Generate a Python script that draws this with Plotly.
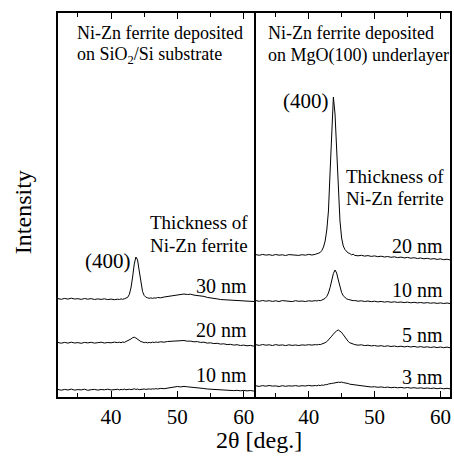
import plotly.graph_objects as go

# 2-theta sampling (deg.), finer around the ferrite (400) reflection
two_theta = [
    32.0, 32.5, 33.0, 33.5, 34.0, 34.5, 35.0, 35.5, 36.0, 36.5,
    37.0, 37.5, 38.0, 38.5, 39.0, 39.5, 40.0, 40.5, 41.0,
    41.25, 41.5, 41.75, 42.0, 42.25, 42.5, 42.75, 43.0, 43.25, 43.5,
    43.75, 44.0, 44.25, 44.5, 44.75, 45.0, 45.25, 45.5, 45.75, 46.0,
    46.25, 46.5, 46.75, 47.0,
    47.5, 48.0, 48.5, 49.0, 49.5, 50.0, 50.5, 51.0, 51.5, 52.0,
    52.5, 53.0, 53.5, 54.0, 54.5, 55.0, 55.5, 56.0, 56.5, 57.0,
    57.5, 58.0, 58.5, 59.0, 59.5, 60.0, 60.5, 61.0, 61.5, 62.0,
]

# Ni-Zn ferrite on SiO2/Si substrate (stacked intensity, a.u.)
sio2_10nm = [
    7.5, 6.8, 7.6, 7.0, 7.9, 6.9, 7.4, 7.1, 7.8, 6.7,
    7.3, 7.6, 6.9, 7.5, 7.2, 7.8, 7.0, 7.4, 7.7,
    7.1, 7.6, 7.3, 7.9, 7.2, 7.5, 7.8, 7.3, 7.9, 8.2,
    7.6, 7.9, 7.4, 7.8, 7.5, 8.0, 7.6, 7.9, 8.1, 7.7,
    8.2, 7.9, 8.4, 8.0,
    8.6, 8.3, 9.0, 9.4, 9.8, 10.5, 10.1, 10.6, 10.2, 10.0,
    9.6, 9.3, 8.8, 8.5, 8.0, 7.8, 7.3, 7.5, 6.9, 7.1,
    6.6, 6.9, 6.4, 6.7, 6.2, 6.6, 6.1, 6.5, 6.0, 6.3,
]
sio2_20nm = [
    54.5, 53.8, 54.6, 53.9, 54.8, 54.0, 54.4, 53.7, 54.6, 54.1,
    54.7, 53.9, 54.3, 54.8, 54.0, 54.5, 54.2, 54.9, 54.4,
    54.8, 54.3, 55.0, 54.6, 55.3, 55.8, 56.9, 58.0, 59.3, 59.8,
    59.0, 57.6, 56.5, 55.4, 55.0, 54.3, 54.8, 54.1, 54.6, 54.2,
    54.9, 54.4, 55.0, 54.6,
    55.2, 54.8, 55.5, 55.7, 56.0, 56.6, 56.1, 56.5, 55.8, 55.9,
    55.2, 55.4, 54.6, 54.8, 53.9, 54.2, 53.4, 53.7, 52.9, 53.2,
    52.4, 52.7, 51.9, 52.3, 51.5, 51.9, 51.2, 51.6, 50.9, 51.3,
]
sio2_30nm = [
    98.4, 97.7, 98.6, 97.9, 98.8, 98.0, 98.3, 97.6, 98.5, 97.8,
    98.4, 97.5, 98.1, 97.6, 98.2, 97.4, 97.9, 97.3, 97.8,
    97.5, 98.1, 97.7, 98.2, 98.6, 99.6, 102.5, 109.0, 120.0, 133.0,
    140.0, 137.0, 126.0, 113.5, 105.5, 101.5, 99.8, 99.2, 98.7, 99.1,
    98.6, 99.2, 98.8, 99.5,
    99.2, 100.0, 100.4, 101.0, 101.6, 102.0, 102.6, 103.0, 102.5, 102.8,
    101.9, 101.7, 100.8, 100.6, 99.6, 99.3, 98.4, 98.1, 97.5, 97.3,
    96.6, 96.9, 96.1, 96.4, 95.6, 95.9, 95.2, 95.6, 95.0, 95.3,
]

# Ni-Zn ferrite on MgO(100) underlayer (stacked intensity, a.u.)
mgo_3nm = [
    11.2, 10.6, 11.4, 10.8, 11.5, 10.9, 11.1, 10.5, 11.3, 10.7,
    11.2, 10.9, 11.4, 10.8, 11.3, 11.0, 11.6, 11.1, 11.5,
    11.2, 11.8, 11.4, 12.0, 11.7, 12.4, 12.3, 13.0, 13.0, 13.6,
    13.8, 14.3, 14.2, 14.8, 14.6, 14.9, 14.4, 14.3, 13.7, 13.5,
    12.8, 12.6, 12.0, 11.8,
    11.2, 11.0, 10.4, 10.6, 10.0, 10.3, 9.7, 10.1, 9.5, 9.9,
    9.3, 9.7, 9.2, 9.6, 9.0, 9.5, 8.9, 9.3, 8.7, 9.2,
    8.6, 9.0, 8.5, 8.9, 8.3, 8.8, 8.2, 8.7, 8.1, 8.5,
]
mgo_5nm = [
    52.3, 51.6, 52.5, 51.8, 52.2, 51.5, 52.4, 51.7, 52.1, 51.4,
    52.2, 51.6, 52.0, 51.5, 52.1, 51.8, 52.3, 51.9, 52.4,
    52.1, 52.6, 52.4, 53.0, 53.4, 54.3, 55.3, 56.8, 58.6, 60.8,
    62.9, 64.8, 66.3, 67.0, 66.2, 64.6, 62.3, 59.8, 57.4, 55.6,
    54.2, 53.4, 52.6, 52.4,
    51.8, 52.2, 51.4, 51.8, 51.1, 51.5, 50.8, 51.3, 50.6, 51.2,
    50.5, 51.0, 50.3, 50.8, 50.1, 50.7, 50.0, 50.6, 49.8, 50.4,
    49.7, 50.2, 49.5, 50.1, 49.4, 50.0, 49.3, 49.9, 49.2, 49.7,
]
mgo_10nm = [
    96.4, 95.7, 96.5, 95.8, 96.3, 95.6, 96.2, 95.5, 96.4, 95.9,
    96.1, 95.4, 96.3, 95.7, 96.0, 95.5, 96.2, 95.8, 96.4,
    96.0, 96.6, 96.3, 96.9, 97.4, 98.6, 100.6, 104.0, 109.5, 116.5,
    123.5, 127.0, 124.0, 117.0, 110.0, 104.5, 101.2, 99.3, 98.2, 97.6,
    97.0, 96.8, 96.3, 96.5,
    95.8, 96.2, 95.5, 96.0, 95.3, 95.8, 95.1, 95.6, 94.9, 95.4,
    94.7, 95.2, 94.6, 95.0, 94.4, 94.9, 94.2, 94.7, 94.1, 94.5,
    93.9, 94.4, 93.8, 94.2, 93.6, 94.1, 93.5, 94.0, 93.4, 93.8,
]
mgo_20nm = [
    142.4, 141.7, 142.6, 141.9, 142.3, 141.6, 142.5, 141.8, 142.2, 141.5,
    142.4, 141.9, 142.1, 141.6, 142.3, 141.8, 142.6, 142.0, 142.7,
    143.0, 143.8, 144.5, 146.5, 150.0, 156.0, 167.0, 186.0, 225.0, 265.0,
    300.0, 283.0, 250.0, 208.0, 176.0, 159.0, 151.0, 147.5, 145.5, 144.0,
    143.5, 142.2, 142.8, 141.6,
    141.2, 141.7, 140.9, 141.4, 140.6, 141.1, 140.3, 140.8, 140.0, 140.5,
    139.7, 140.2, 139.4, 139.9, 139.1, 139.6, 138.8, 139.3, 138.5, 139.0,
    138.2, 138.7, 137.9, 138.4, 137.6, 138.1, 137.3, 137.8, 137.0, 137.5,
]

left_series = [sio2_10nm, sio2_20nm, sio2_30nm]
right_series = [mgo_3nm, mgo_5nm, mgo_10nm, mgo_20nm]

SERIF = "Liberation Serif"

fig = go.Figure()
for ys in left_series:
    fig.add_trace(go.Scatter(x=two_theta, y=ys, mode="lines", xaxis="x", yaxis="y",
                             line=dict(color="black", width=1), showlegend=False))
for ys in right_series:
    fig.add_trace(go.Scatter(x=two_theta, y=ys, mode="lines", xaxis="x2", yaxis="y2",
                             line=dict(color="black", width=1), showlegend=False))

xcommon = dict(
    showline=True, linecolor="black", linewidth=1.5, mirror="ticks",
    ticks="inside", ticklen=6, tickwidth=1, tickcolor="black",
    tick0=0, dtick=10, showgrid=False, zeroline=False,
    tickfont=dict(family=SERIF, size=21, color="black"),
    ticklabelstandoff=0,
    minor=dict(ticks="inside", ticklen=4, tickwidth=1, tickcolor="black", dtick=5, showgrid=False),
)
ycommon = dict(
    range=[0, 384], showline=True, linecolor="black", linewidth=1.5,
    ticks="", showticklabels=False, showgrid=False, zeroline=False,
)

fig.update_layout(
    width=454, height=457,
    margin=dict(l=58, r=2, t=13, b=60),
    paper_bgcolor="white", plot_bgcolor="white",
    xaxis=dict(domain=[0, 0.505], range=[32, 61.85], anchor="y", **xcommon),
    xaxis2=dict(domain=[0.505, 1], range=[32, 61.45], anchor="y2", **xcommon),
    # the shared divider is drawn once, by the right panel's left spine
    yaxis=dict(anchor="x", mirror=False, **ycommon),
    yaxis2=dict(anchor="x2", mirror=True, **ycommon),
    font=dict(family=SERIF, color="black"),
)

ann = []


def label(text, x, y, panel, xanchor="left", size=19):
    ref = "" if panel == 1 else "2"
    ann.append(dict(text=text, x=x, y=y, xref="x" + ref, yref="y" + ref,
                    xanchor=xanchor, yanchor="middle", showarrow=False,
                    font=dict(family=SERIF, size=size, color="black")))


# left panel
label("Ni-Zn ferrite deposited", 34.6, 364, 1, size=18)
label("on SiO<sub>2</sub>/Si substrate", 34.6, 342, 1, size=18)
label("Thickness of", 60.95, 175, 1, "right")
label("Ni-Zn ferrite", 60.95, 152, 1, "right")
label("(400)", 43.3, 136, 1, "right", 21)
label("30 nm", 60.8, 111, 1, "right", 20)
label("20 nm", 60.8, 67, 1, "right", 20)
label("10 nm", 60.8, 22, 1, "right", 20)

# right panel
label("Ni-Zn ferrite deposited", 33.55, 364, 2, size=18)
label("on MgO(100) underlayer", 33.55, 342, 2, size=18)
label("(400)", 43.45, 296, 2, "right", 21)
label("Thickness of", 60.9, 221, 2, "right")
label("Ni-Zn ferrite", 60.9, 199, 2, "right")
label("20 nm", 60.75, 151, 2, "right", 20)
label("10 nm", 60.75, 107, 2, "right", 20)
label("5 nm", 60.75, 62, 2, "right", 20)
label("3 nm", 60.75, 20, 2, "right", 20)

# axis titles
ann.append(dict(text="2θ [deg.]", x=(260 - 58) / 394, y=-(440 - 397) / 384,
                xref="paper", yref="paper", xanchor="center", yanchor="middle",
                showarrow=False, font=dict(family=SERIF, size=24, color="black")))
ann.append(dict(text="Intensity", x=-(58 - 23) / 394, y=(397 - 212) / 384,
                xref="paper", yref="paper", xanchor="center", yanchor="middle",
                textangle=-90, showarrow=False,
                font=dict(family=SERIF, size=24, color="black")))

fig.update_layout(annotations=ann)
fig.write_html("out.html")
